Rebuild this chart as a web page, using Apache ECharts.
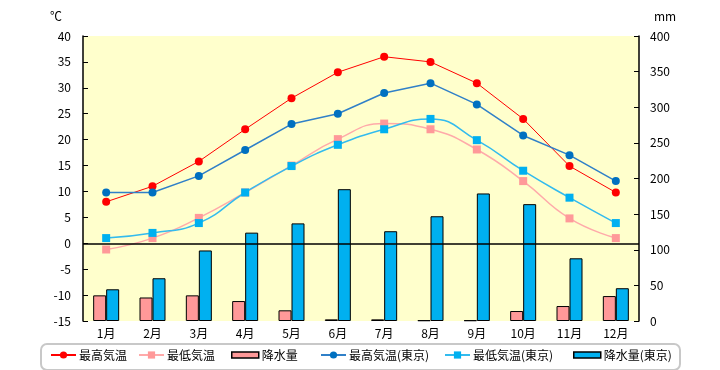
<!DOCTYPE html>
<html>
<head>
<meta charset="utf-8">
<script src="https://cdn.jsdelivr.net/npm/echarts@6/dist/echarts.min.js"></script>
<style>html,body{margin:0;padding:0;background:#fff;}#c{width:720px;height:370px;}</style>
</head>
<body>
<div id="c"></div>
<script>
var months = ['1月','2月','3月','4月','5月','6月','7月','8月','9月','10月','11月','12月'];
var maxTemp = [8, 11, 15.8, 22, 28, 33, 36, 35, 30.9, 24, 14.9, 9.8];
var minTemp = [-1.2, 1, 4.9, 9.8, 15, 20.1, 23.1, 22, 18.1, 12, 4.8, 1];
var precip = [36, 33, 36, 28, 15, 2.3, 2.3, 1, 1, 14, 21, 35];
var tokyoMax = [9.8, 9.8, 13, 18, 23, 25, 29, 30.9, 26.8, 20.8, 17, 12];
var tokyoMin = [1, 2, 3.9, 9.8, 14.9, 19, 22, 24, 19.9, 14, 8.8, 3.9];
var tokyoPrecip = [44.5, 60, 99, 124, 137, 185, 126, 147, 179, 164, 88, 46];
var tempTicks = {min: -15, max: 40, interval: 5};
var rainTicks = {min: 0, max: 400, interval: 50};
var names = ['最高気温','最低気温','降水量','最高気温(東京)','最低気温(東京)','降水量(東京)'];

var FONT = '"Noto Sans CJK JP", "Noto Sans", sans-serif';
var chart = echarts.init(document.getElementById('c'));
var legendX = [50, 138, 231, 320, 444, 573];
var legends = names.map(function(n, i){
  var isBar = (i === 2 || i === 5);
  var l = {
    data: [isBar ? {name: n, icon: 'rect', itemStyle: {borderColor: '#000', borderWidth: 1.5}} : n],
    left: legendX[i], top: 349, itemWidth: isBar ? 27 : 25, itemHeight: isBar ? 6 : 9, itemGap: 4,
    textStyle: {fontFamily: FONT, fontSize: 12, color: '#000', padding: [0, 0, 0, -2]}, selectedMode: false, padding: 0
  };
  return l;
});
chart.setOption({
  animation: false,
  textStyle: {fontFamily: FONT},
  graphic: [
    {type: 'rect', left: 40, top: 343, z: -1, shape: {width: 639, height: 26, r: 6}, style: {fill: '#fff', stroke: '#c8c8c8', lineWidth: 2}},
    {type: 'text', left: 50, top: 10, style: {text: '℃', font: '12px ' + FONT, fill: '#000'}},
    {type: 'text', left: 654, top: 10, style: {text: 'mm', font: '12px ' + FONT, fill: '#000'}}
  ],
  legend: legends,
  grid: {left: 83, right: 81, top: 36, bottom: 49, show: true, backgroundColor: '#FFFFCC', borderWidth: 0},
  xAxis: {
    type: 'category', data: months,
    axisLine: {show: false}, axisTick: {show: false},
    axisLabel: {color: '#000', fontSize: 12, margin: 6, fontFamily: FONT}
  },
  yAxis: [
    {type: 'value', min: tempTicks.min, max: tempTicks.max, interval: tempTicks.interval,
     axisLine: {show: true, lineStyle: {color: '#000', width: 1.5}},
     axisTick: {show: true, inside: true, length: 5, lineStyle: {color: '#000'}},
     axisLabel: {color: '#000', fontSize: 12, margin: 12, fontFamily: FONT},
     splitLine: {show: false}},
    {type: 'value', min: rainTicks.min, max: rainTicks.max, interval: rainTicks.interval, position: 'right',
     axisLine: {show: true, lineStyle: {color: '#000', width: 1.5}},
     axisTick: {show: true, inside: true, length: 5, lineStyle: {color: '#000'}},
     axisLabel: {color: '#000', fontSize: 12, margin: 11, fontFamily: FONT},
     splitLine: {show: false}}
  ],
  series: [
    {name: names[0], type: 'line', data: maxTemp, yAxisIndex: 0, z: 5,
     symbol: 'circle', symbolSize: 8, itemStyle: {color: '#FF0000'}, lineStyle: {color: '#FF0000', width: 1},
     markLine: {silent: true, symbol: 'none', label: {show: false}, lineStyle: {color: '#000', width: 1.5, type: 'solid'}, data: [{yAxis: 0}]}},
    {name: names[1], type: 'line', data: minTemp, yAxisIndex: 0, z: 4, smooth: true,
     symbol: 'rect', symbolSize: 8, itemStyle: {color: '#FF9999'}, lineStyle: {color: '#FFAAAA', width: 1.5}},
    {name: names[2], type: 'bar', data: precip, yAxisIndex: 1, z: 2, barWidth: 13, barGap: '0%',
     itemStyle: {color: '#FF9999', borderColor: '#000', borderWidth: 1}},
    {name: names[3], type: 'line', data: tokyoMax, yAxisIndex: 0, z: 5,
     symbol: 'circle', symbolSize: 8, itemStyle: {color: '#0070C0'}, lineStyle: {color: '#3080C8', width: 1.5}},
    {name: names[4], type: 'line', data: tokyoMin, yAxisIndex: 0, z: 5, smooth: true,
     symbol: 'rect', symbolSize: 8, itemStyle: {color: '#00B0F0'}, lineStyle: {color: '#33BBEE', width: 1.5}},
    {name: names[5], type: 'bar', data: tokyoPrecip, yAxisIndex: 1, z: 2, barWidth: 13, barGap: '0%',
     itemStyle: {color: '#00B0F0', borderColor: '#000', borderWidth: 1}}
  ]
});
</script>
</body>
</html>
